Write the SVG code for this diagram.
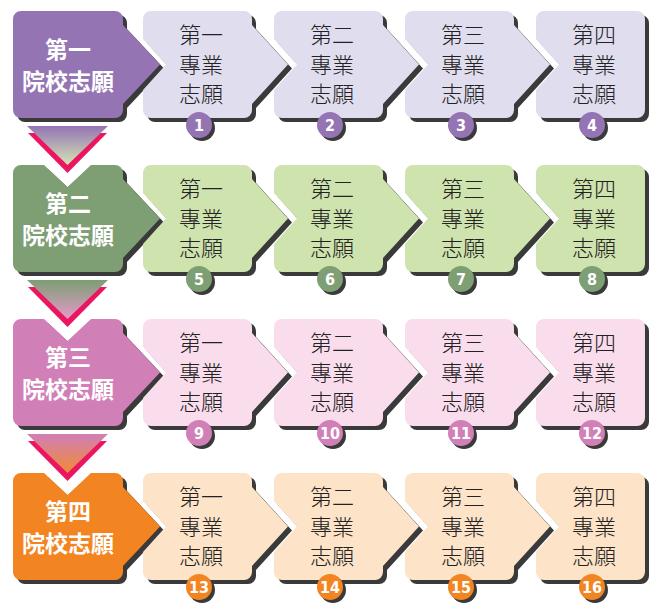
<svg xmlns="http://www.w3.org/2000/svg" xmlns:xlink="http://www.w3.org/1999/xlink" width="653" height="604" viewBox="0 0 653 604">
<style>
.sh{fill:#3a3a3a}
.big{font-family:"Noto Sans CJK TC","Noto Sans CJK SC",sans-serif;font-weight:700;font-size:23px;fill:#fff;text-anchor:middle}
.sm{font-family:"Noto Sans CJK TC","Noto Sans CJK SC",sans-serif;font-weight:300;font-size:22px;fill:#222;text-anchor:middle}
.num{font-family:"DejaVu Sans Condensed","Liberation Sans",sans-serif;font-weight:700;font-size:16px;fill:#fff;text-anchor:middle}
.r1 .m{fill:#9574B4}.r1 .l{fill:#E0DDEF}
.r2 .m{fill:#7E9E74}.r2 .l{fill:#CFE3AE}
.r3 .m{fill:#D17FB7}.r3 .l{fill:#FADDEC}
.r4 .m{fill:#F28521}.r4 .l{fill:#FDE3C8}
.pk{fill:#EC1560}
</style>
<defs>
<path id="bigA" d="M21,0 H115 A8,8 0 0 1 123,8 V14 L160,53.5 L123,93 V99 A8,8 0 0 1 115,107 H21 A8,8 0 0 1 13,99 V8 A8,8 0 0 1 21,0 Z"/>
<path id="bigB" d="M21,0 H44 L67.5,22 L91,0 H115 A8,8 0 0 1 123,8 V14 L160,53.5 L123,93 V99 A8,8 0 0 1 115,107 H21 A8,8 0 0 1 13,99 V8 A8,8 0 0 1 21,0 Z"/>
<path id="smA" d="M8,0 H101 A8,8 0 0 1 109,8 V14 L145,53.5 L109,93 V99 A8,8 0 0 1 101,107 H8 A8,8 0 0 1 0,99 V79 L23,53.5 L0,28 V8 A8,8 0 0 1 8,0 Z"/>
<path id="smB" d="M8,0 H101 A8,8 0 0 1 109,8 V99 A8,8 0 0 1 101,107 H8 A8,8 0 0 1 0,99 V79 L23,53.5 L0,28 V8 A8,8 0 0 1 8,0 Z"/>
<linearGradient id="g1" x1="0" y1="0" x2="0" y2="1"><stop offset="0" stop-color="#9574B4"/><stop offset="1" stop-color="#D3E4B3"/></linearGradient>
<linearGradient id="g2" x1="0" y1="0" x2="0" y2="1"><stop offset="0" stop-color="#7E9E74"/><stop offset="1" stop-color="#E39ACB"/></linearGradient>
<linearGradient id="g3" x1="0" y1="0" x2="0" y2="1"><stop offset="0" stop-color="#D17FB7"/><stop offset="1" stop-color="#F08A35"/></linearGradient>
</defs>

<g id="connectors">
  <g transform="translate(0,11)">
    <polygon class="pk" points="28,122 107,122 67.5,162"/>
    <polygon fill="url(#g1)" points="27,115 108,115 67.5,154"/>
  </g>
  <g transform="translate(0,165)">
    <polygon class="pk" points="28,122 107,122 67.5,162"/>
    <polygon fill="url(#g2)" points="27,115 108,115 67.5,154"/>
  </g>
  <g transform="translate(0,319)">
    <polygon class="pk" points="28,122 107,122 67.5,162"/>
    <polygon fill="url(#g3)" points="27,115 108,115 67.5,154"/>
  </g>
</g>

<!-- Row 1 -->
<g class="r1" transform="translate(0,11)">
  <g id="row1-main">
    <use href="#bigA" class="sh" transform="translate(4,4)"/>
    <use href="#bigA" class="m"/>
    <text class="big" x="68" y="47">第一</text>
    <text class="big" x="68" y="79">院校志願</text>
  </g>
  <g id="n1" transform="translate(143,0)">
    <use href="#smA" class="sh" transform="translate(4,4)"/>
    <use href="#smA" class="l"/>
    <text class="sm" x="58" y="32">第一</text><text class="sm" x="58" y="61.5">專業</text><text class="sm" x="58" y="91">志願</text>
    <circle class="sh" cx="59" cy="117" r="13"/><circle class="m" cx="56" cy="114" r="13"/>
    <text class="num" x="56" y="120">1</text>
  </g>
  <g id="n2" transform="translate(274,0)">
    <use href="#smA" class="sh" transform="translate(4,4)"/>
    <use href="#smA" class="l"/>
    <text class="sm" x="58" y="32">第二</text><text class="sm" x="58" y="61.5">專業</text><text class="sm" x="58" y="91">志願</text>
    <circle class="sh" cx="59" cy="117" r="13"/><circle class="m" cx="56" cy="114" r="13"/>
    <text class="num" x="56" y="120">2</text>
  </g>
  <g id="n3" transform="translate(405,0)">
    <use href="#smA" class="sh" transform="translate(4,4)"/>
    <use href="#smA" class="l"/>
    <text class="sm" x="58" y="32">第三</text><text class="sm" x="58" y="61.5">專業</text><text class="sm" x="58" y="91">志願</text>
    <circle class="sh" cx="59" cy="117" r="13"/><circle class="m" cx="56" cy="114" r="13"/>
    <text class="num" x="56" y="120">3</text>
  </g>
  <g id="n4" transform="translate(536,0)">
    <use href="#smB" class="sh" transform="translate(4,4)"/>
    <use href="#smB" class="l"/>
    <text class="sm" x="58" y="32">第四</text><text class="sm" x="58" y="61.5">專業</text><text class="sm" x="58" y="91">志願</text>
    <circle class="sh" cx="59" cy="117" r="13"/><circle class="m" cx="56" cy="114" r="13"/>
    <text class="num" x="56" y="120">4</text>
  </g>
</g>

<!-- Row 2 -->
<g class="r2" transform="translate(0,165)">
  <g id="row2-main">
    <use href="#bigB" class="sh" transform="translate(4,4)"/>
    <use href="#bigB" class="m"/>
    <text class="big" x="68" y="47">第二</text>
    <text class="big" x="68" y="79">院校志願</text>
  </g>
  <g id="n5" transform="translate(143,0)">
    <use href="#smA" class="sh" transform="translate(4,4)"/>
    <use href="#smA" class="l"/>
    <text class="sm" x="58" y="32">第一</text><text class="sm" x="58" y="61.5">專業</text><text class="sm" x="58" y="91">志願</text>
    <circle class="sh" cx="59" cy="117" r="13"/><circle class="m" cx="56" cy="114" r="13"/>
    <text class="num" x="56" y="120">5</text>
  </g>
  <g id="n6" transform="translate(274,0)">
    <use href="#smA" class="sh" transform="translate(4,4)"/>
    <use href="#smA" class="l"/>
    <text class="sm" x="58" y="32">第二</text><text class="sm" x="58" y="61.5">專業</text><text class="sm" x="58" y="91">志願</text>
    <circle class="sh" cx="59" cy="117" r="13"/><circle class="m" cx="56" cy="114" r="13"/>
    <text class="num" x="56" y="120">6</text>
  </g>
  <g id="n7" transform="translate(405,0)">
    <use href="#smA" class="sh" transform="translate(4,4)"/>
    <use href="#smA" class="l"/>
    <text class="sm" x="58" y="32">第三</text><text class="sm" x="58" y="61.5">專業</text><text class="sm" x="58" y="91">志願</text>
    <circle class="sh" cx="59" cy="117" r="13"/><circle class="m" cx="56" cy="114" r="13"/>
    <text class="num" x="56" y="120">7</text>
  </g>
  <g id="n8" transform="translate(536,0)">
    <use href="#smB" class="sh" transform="translate(4,4)"/>
    <use href="#smB" class="l"/>
    <text class="sm" x="58" y="32">第四</text><text class="sm" x="58" y="61.5">專業</text><text class="sm" x="58" y="91">志願</text>
    <circle class="sh" cx="59" cy="117" r="13"/><circle class="m" cx="56" cy="114" r="13"/>
    <text class="num" x="56" y="120">8</text>
  </g>
</g>

<!-- Row 3 -->
<g class="r3" transform="translate(0,319)">
  <g id="row3-main">
    <use href="#bigB" class="sh" transform="translate(4,4)"/>
    <use href="#bigB" class="m"/>
    <text class="big" x="68" y="47">第三</text>
    <text class="big" x="68" y="79">院校志願</text>
  </g>
  <g id="n9" transform="translate(143,0)">
    <use href="#smA" class="sh" transform="translate(4,4)"/>
    <use href="#smA" class="l"/>
    <text class="sm" x="58" y="32">第一</text><text class="sm" x="58" y="61.5">專業</text><text class="sm" x="58" y="91">志願</text>
    <circle class="sh" cx="59" cy="117" r="13"/><circle class="m" cx="56" cy="114" r="13"/>
    <text class="num" x="56" y="120">9</text>
  </g>
  <g id="n10" transform="translate(274,0)">
    <use href="#smA" class="sh" transform="translate(4,4)"/>
    <use href="#smA" class="l"/>
    <text class="sm" x="58" y="32">第二</text><text class="sm" x="58" y="61.5">專業</text><text class="sm" x="58" y="91">志願</text>
    <circle class="sh" cx="59" cy="117" r="13"/><circle class="m" cx="56" cy="114" r="13"/>
    <text class="num" x="56" y="120">10</text>
  </g>
  <g id="n11" transform="translate(405,0)">
    <use href="#smA" class="sh" transform="translate(4,4)"/>
    <use href="#smA" class="l"/>
    <text class="sm" x="58" y="32">第三</text><text class="sm" x="58" y="61.5">專業</text><text class="sm" x="58" y="91">志願</text>
    <circle class="sh" cx="59" cy="117" r="13"/><circle class="m" cx="56" cy="114" r="13"/>
    <text class="num" x="56" y="120">11</text>
  </g>
  <g id="n12" transform="translate(536,0)">
    <use href="#smB" class="sh" transform="translate(4,4)"/>
    <use href="#smB" class="l"/>
    <text class="sm" x="58" y="32">第四</text><text class="sm" x="58" y="61.5">專業</text><text class="sm" x="58" y="91">志願</text>
    <circle class="sh" cx="59" cy="117" r="13"/><circle class="m" cx="56" cy="114" r="13"/>
    <text class="num" x="56" y="120">12</text>
  </g>
</g>

<!-- Row 4 -->
<g class="r4" transform="translate(0,473)">
  <g id="row4-main">
    <use href="#bigB" class="sh" transform="translate(4,4)"/>
    <use href="#bigB" class="m"/>
    <text class="big" x="68" y="47">第四</text>
    <text class="big" x="68" y="79">院校志願</text>
  </g>
  <g id="n13" transform="translate(143,0)">
    <use href="#smA" class="sh" transform="translate(4,4)"/>
    <use href="#smA" class="l"/>
    <text class="sm" x="58" y="32">第一</text><text class="sm" x="58" y="61.5">專業</text><text class="sm" x="58" y="91">志願</text>
    <circle class="sh" cx="59" cy="117" r="13"/><circle class="m" cx="56" cy="114" r="13"/>
    <text class="num" x="56" y="120">13</text>
  </g>
  <g id="n14" transform="translate(274,0)">
    <use href="#smA" class="sh" transform="translate(4,4)"/>
    <use href="#smA" class="l"/>
    <text class="sm" x="58" y="32">第二</text><text class="sm" x="58" y="61.5">專業</text><text class="sm" x="58" y="91">志願</text>
    <circle class="sh" cx="59" cy="117" r="13"/><circle class="m" cx="56" cy="114" r="13"/>
    <text class="num" x="56" y="120">14</text>
  </g>
  <g id="n15" transform="translate(405,0)">
    <use href="#smA" class="sh" transform="translate(4,4)"/>
    <use href="#smA" class="l"/>
    <text class="sm" x="58" y="32">第三</text><text class="sm" x="58" y="61.5">專業</text><text class="sm" x="58" y="91">志願</text>
    <circle class="sh" cx="59" cy="117" r="13"/><circle class="m" cx="56" cy="114" r="13"/>
    <text class="num" x="56" y="120">15</text>
  </g>
  <g id="n16" transform="translate(536,0)">
    <use href="#smB" class="sh" transform="translate(4,4)"/>
    <use href="#smB" class="l"/>
    <text class="sm" x="58" y="32">第四</text><text class="sm" x="58" y="61.5">專業</text><text class="sm" x="58" y="91">志願</text>
    <circle class="sh" cx="59" cy="117" r="13"/><circle class="m" cx="56" cy="114" r="13"/>
    <text class="num" x="56" y="120">16</text>
  </g>
</g>
</svg>
